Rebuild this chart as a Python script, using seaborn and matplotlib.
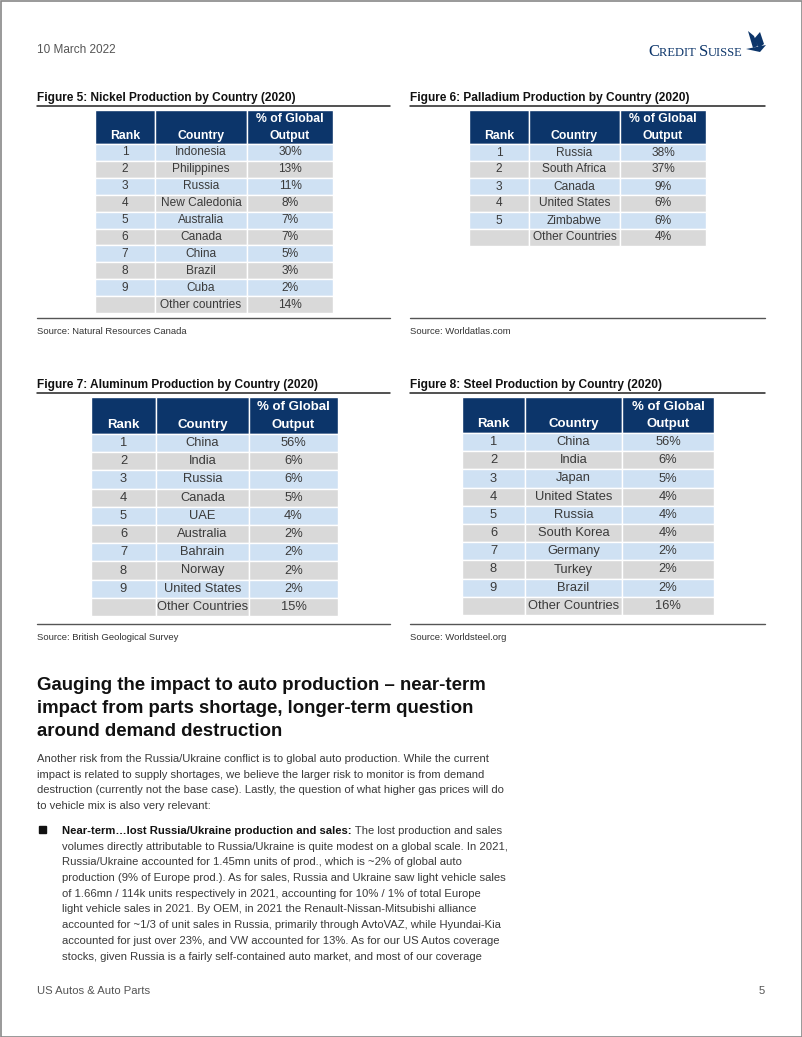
import numpy as np
import matplotlib.pyplot as plt
import seaborn as sns
from matplotlib.patches import Rectangle

# ---- data ----
nickel_rank = ["1", "2", "3", "4", "5", "6", "7", "8", "9", ""]
nickel_country = ["Indonesia", "Philippines", "Russia", "New Caledonia", "Australia",
                  "Canada", "China", "Brazil", "Cuba", "Other countries"]
nickel_share = [30, 13, 11, 8, 7, 7, 5, 3, 2, 14]

palladium_rank = ["1", "2", "3", "4", "5", ""]
palladium_country = ["Russia", "South Africa", "Canada", "United States", "Zimbabwe",
                     "Other Countries"]
palladium_share = [38, 37, 9, 6, 6, 4]

aluminum_rank = ["1", "2", "3", "4", "5", "6", "7", "8", "9", ""]
aluminum_country = ["China", "India", "Russia", "Canada", "UAE", "Australia",
                    "Bahrain", "Norway", "United States", "Other Countries"]
aluminum_share = [56, 6, 6, 5, 4, 2, 2, 2, 2, 15]

steel_rank = ["1", "2", "3", "4", "5", "6", "7", "8", "9", ""]
steel_country = ["China", "India", "Japan", "United States", "Russia", "South Korea",
                 "Germany", "Turkey", "Brazil", "Other Countries"]
steel_share = [56, 6, 5, 4, 4, 4, 2, 2, 2, 16]

body_lines = [
    "Another risk from the Russia/Ukraine conflict is to global auto production. While the current",
    "impact is related to supply shortages, we believe the larger risk to monitor is from demand",
    "destruction (currently not the base case). Lastly, the question of what higher gas prices will do",
    "to vehicle mix is also very relevant:",
]
bullet_lead = "Near-term\u2026lost Russia/Ukraine production and sales:"
bullet_lines = [
    " The lost production and sales",
    "volumes directly attributable to Russia/Ukraine is quite modest on a global scale. In 2021,",
    "Russia/Ukraine accounted for 1.45mn units of prod., which is ~2% of global auto",
    "production (9% of Europe prod.). As for sales, Russia and Ukraine saw light vehicle sales",
    "of 1.66mn / 114k units respectively in 2021, accounting for 10% / 1% of total Europe",
    "light vehicle sales in 2021. By OEM, in 2021 the Renault-Nissan-Mitsubishi alliance",
    "accounted for ~1/3 of unit sales in Russia, primarily through AvtoVAZ, while Hyundai-Kia",
    "accounted for just over 23%, and VW accounted for 13%. As for our US Autos coverage",
    "stocks, given Russia is a fairly self-contained auto market, and most of our coverage",
]

sns.set_theme(style="white")
plt.rcParams['font.family'] = ['Liberation Sans', 'DejaVu Sans']

NAVY = "#0c356a"
BLUE = "#cfe1f3"
GREY = "#d9d9d9"
TXT = "#3a3a3a"

fig = plt.figure(figsize=(8.02, 10.37), dpi=100)
ax = fig.add_axes([0, 0, 1, 1])
ax.set_xlim(0, 802)
ax.set_ylim(1037, 0)
ax.axis("off")


def draw_table(edges, top, head_h, row_h, ranks, countries, shares, fs):
    lefts = edges[:-1]
    widths = np.diff(edges)
    ax.barh(top + head_h / 2, widths, left=lefts, height=head_h, color=NAVY,
            edgecolor="white", linewidth=1.0)
    n = len(countries)
    ys = top + head_h + row_h * (np.arange(n) + 0.5)
    colors = [BLUE if i % 2 == 0 else GREY for i in range(n)]
    for l, w in zip(lefts, widths):
        ax.barh(ys, w, left=l, height=row_h, color=colors, edgecolor="white", linewidth=1.0)
    mids = lefts + widths / 2
    y2 = top + head_h * 0.76
    y1 = top + head_h * 0.27
    hk = dict(color="white", fontweight="bold", fontsize=fs + 0.2, ha="center", va="center")
    ax.text(mids[0], y2, "Rank", **hk)
    ax.text(mids[1], y2, "Country", **hk)
    ax.text(mids[2], y1, "% of Global", **hk)
    ax.text(mids[2], y2, "Output", **hk)
    for y, r, c, s in zip(ys, ranks, countries, shares):
        ax.text(mids[0], y, r, color=TXT, fontsize=fs, ha="center", va="center")
        ax.text(mids[1], y, c, color=TXT, fontsize=fs, ha="center", va="center")
        ax.text(mids[2], y, f"{s}%", color=TXT, fontsize=fs, ha="center", va="center")


def panel(x0, x1, title_y, src_y, title, source):
    ax.text(x0, title_y, title, fontsize=8.55, fontweight="bold", color="#111111",
            ha="left", va="center")
    ax.plot([x0, x1], [title_y + 8, title_y + 8], color="#222222", lw=1.1)
    ax.plot([x0, x1], [src_y, src_y], color="#555555", lw=1.0)
    ax.text(x0, src_y + 13, source, fontsize=6.8, color="#333333", ha="left", va="center")


panel(37, 390, 98, 318, "Figure 5: Nickel Production by Country (2020)",
      "Source: Natural Resources Canada")
panel(410, 765, 98, 318, "Figure 6: Palladium Production by Country (2020)",
      "Source: Worldatlas.com")
panel(37, 390, 385, 624, "Figure 7: Aluminum Production by Country (2020)",
      "Source: British Geological Survey")
panel(410, 765, 385, 624, "Figure 8: Steel Production by Country (2020)",
      "Source: Worldsteel.org")

draw_table(np.array([95, 155, 247, 333]), 110, 34, 16.9,
           nickel_rank, nickel_country, nickel_share, 8.6)
draw_table(np.array([469, 529, 620, 706]), 110, 34, 17.0,
           palladium_rank, palladium_country, palladium_share, 8.6)
draw_table(np.array([91, 156, 249, 338]), 397, 37, 18.2,
           aluminum_rank, aluminum_country, aluminum_share, 9.3)
draw_table(np.array([462, 525, 622, 714]), 397, 36, 18.2,
           steel_rank, steel_country, steel_share, 9.3)

# header / footer
ax.text(37, 50, "10 March 2022", fontsize=8.5, color="#555555", ha="left", va="center")
ax.text(37, 991, "US Autos & Auto Parts", fontsize=8.1, color="#555555", ha="left", va="center")
ax.text(765, 991, "5", fontsize=8.1, color="#555555", ha="right", va="center")

# logo with small caps
fig.canvas.draw()
renderer = fig.canvas.get_renderer()


def run(x, y, s, **kw):
    t = ax.text(x, y, s, ha="left", va="baseline", **kw)
    bb = t.get_window_extent(renderer=renderer)
    return x + bb.width


lx = 648
for big, small in [("C", "REDIT "), ("S", "UISSE")]:
    lx = run(lx, 56, big, fontsize=12.0, family="Liberation Serif", color=NAVY)
    lx = run(lx, 56, small, fontsize=9.0, family="Liberation Serif", color=NAVY)
# sail mark
ax.fill([748, 754, 758, 753], [31, 36, 46, 48], color=NAVY, lw=0)
ax.fill([754, 760, 764, 759], [39, 32, 44, 48], color=NAVY, lw=0)
ax.fill([746, 766, 760], [49, 45, 52], color=NAVY, lw=0)

# heading
for i, line in enumerate(["Gauging the impact to auto production \u2013 near-term",
                          "impact from parts shortage, longer-term question",
                          "around demand destruction"]):
    ax.text(37, 685 + i * 23.3, line, fontsize=13.4, fontweight="bold", color="#111111",
            ha="left", va="center")

for i, line in enumerate(body_lines):
    ax.text(37, 759 + i * 15.7, line, fontsize=8.15, color=TXT, ha="left", va="center")

ax.add_patch(Rectangle((39, 826), 7, 7, color="#111111"))
x_after = run(62, 834, bullet_lead, fontsize=8.15, fontweight="bold", color="#111111")
for i, line in enumerate(bullet_lines):
    x = x_after if i == 0 else 62
    ax.text(x, 834 + i * 15.7, line, fontsize=8.15, color=TXT, ha="left", va="baseline")

# page frame
ax.add_patch(Rectangle((0.5, 0.5), 801, 1036, fill=False, edgecolor="#888888", lw=1.2))

fig.savefig("out.png", dpi=100)
